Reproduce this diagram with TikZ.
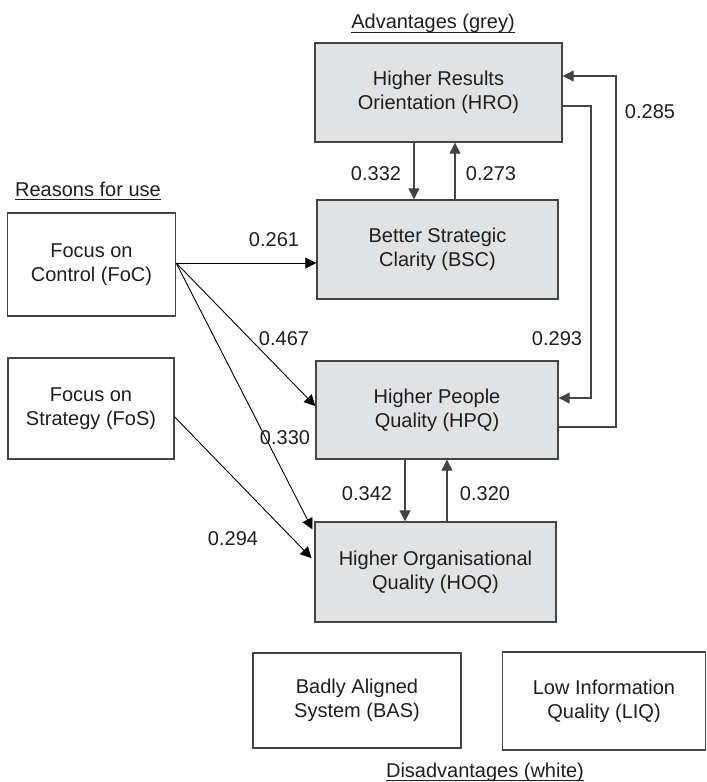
\documentclass[tikz,border=0pt]{standalone}
\usepackage{fontspec}
\setmainfont{Liberation Sans}
\usetikzlibrary{arrows.meta}
\definecolor{boxgrey}{HTML}{E1E2E4}
\definecolor{edgegrey}{HTML}{444444}
\definecolor{txt}{HTML}{1E1E1E}
\begin{document}
\begin{tikzpicture}[x=1pt,y=-1pt,
  every node/.style={font=\fontsize{20}{24}\selectfont, text=txt},
  box/.style={draw=edgegrey, line width=1.4pt, align=center, inner sep=0pt},
  adv/.style={box, fill=boxgrey},
  dis/.style={box, fill=white},
  arr/.style={-{Triangle[length=11pt,width=11pt]}, line width=1.2pt, draw=edgegrey},
  darr/.style={-{Triangle[length=11pt,width=11pt]}, line width=0.9pt, draw=black},
  lbl/.style={inner sep=0pt, anchor=base},
  uline/.style={line width=1pt, draw=txt}
]
\useasboundingbox (0,0) rectangle (707,782);

% boxes
\node[adv, minimum width=247pt, minimum height=99pt] (HRO) at (438.5,92.5) {Higher Results\\Orientation (HRO)};
\node[adv, minimum width=241pt, minimum height=99pt] (BSC) at (437.5,249.5) {Better Strategic\\Clarity (BSC)};
\node[dis, minimum width=168pt, minimum height=103pt] (FoC) at (91.5,264.5) {Focus on\\Control (FoC)};
\node[dis, minimum width=166pt, minimum height=101pt] (FoS) at (91,408.5) {Focus on\\Strategy (FoS)};
\node[adv, minimum width=242pt, minimum height=98pt] (HPQ) at (437,410) {Higher People\\Quality (HPQ)};
\node[adv, minimum width=241pt, minimum height=100pt] (HOQ) at (435.5,572) {Higher Organisational\\Quality (HOQ)};
\node[dis, minimum width=208pt, minimum height=95pt] (BAS) at (357,700.5) {Badly Aligned\\System (BAS)};
\node[dis, minimum width=203pt, minimum height=98pt] (LIQ) at (604,701) {Low Information\\Quality (LIQ)};

% titles
\node[lbl] (tadv) at (433,28) {Advantages (grey)};
\node[lbl] (treas) at (88,196.5) {Reasons for use};
\node[lbl] (tdis) at (485,777) {Disadvantages (white)};
\draw[uline] ([yshift=-4pt]tadv.base west) -- ([yshift=-4pt]tadv.base east);
\draw[uline] ([yshift=-3pt]treas.base west) -- ([yshift=-3pt]treas.base east);
\draw[uline] ([yshift=-3.5pt]tdis.base west) -- ([yshift=-3.5pt]tdis.base east);

% vertical pairs
\draw[arr] (414,0 |- HRO.south) -- (414,0 |- BSC.north);
\draw[arr] (455,0 |- BSC.north) -- (455,0 |- HRO.south);
\draw[arr] (405,0 |- HPQ.south) -- (405,0 |- HOQ.north);
\draw[arr] (447,0 |- HOQ.north) -- (447,0 |- HPQ.south);

% loops on the right
\draw[arr] (HRO.east |- 0,106) -- (591,106) -- (591,398) -- (HPQ.east |- 0,398);
\draw[arr] (HPQ.east |- 0,427) -- (616,427) -- (616,76) -- (HRO.east |- 0,76);

% from reasons
\coordinate (FoCout) at (FoC.east |- 0,263);
\draw[darr] (FoCout) -- (BSC.west |- 0,263);
\draw[darr] (FoCout) -- (HPQ.west |- 0,406);
\draw[darr, shorten >=4pt] (FoCout) -- (HOQ.west |- 0,533);
\draw[darr, shorten >=4pt] (FoS.east |- 0,417) -- (HOQ.west |- 0,561);

% coefficients
\node[lbl] (c261) at (274,246) {0.261};
\node[lbl] (c332) at (376,180) {0.332};
\node[lbl] (c273) at (491,180) {0.273};
\node[lbl] (c285) at (650,118) {0.285};
\node[lbl] (c293) at (557,345) {0.293};
\node[lbl] (c467) at (284,345) {0.467};
\node[lbl] (c330) at (285,444) {0.330};
\node[lbl] (c294) at (233,545) {0.294};
\node[lbl] (c342) at (367,500) {0.342};
\node[lbl] (c320) at (485,500) {0.320};
\end{tikzpicture}
\end{document}
